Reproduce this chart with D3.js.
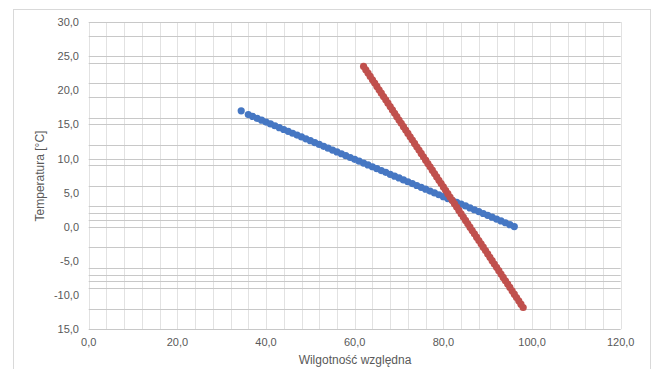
<!DOCTYPE html>
<html>
<head>
<meta charset="utf-8">
<script src="https://cdn.jsdelivr.net/npm/d3@7"></script>
<style>
  body { margin: 0; background: #fff; }
  text { font-family: "Liberation Sans", Arial, sans-serif; fill: #595959; }
</style>
</head>
<body>
<svg width="658" height="369"></svg>
<script>
// blue series (humidity %, temperature C)
let blueHum = [34.4, 36, 37, 38, 39, 40, 41, 42, 43, 44, 45, 46, 47, 48, 49, 50, 51, 52, 53, 54, 55,
  56, 57, 58, 59, 60, 61, 62, 63, 64, 65, 66, 67, 68, 69, 70, 71, 72, 73, 74, 75, 76, 77, 78, 79, 80,
  81, 82, 83, 84, 85, 86, 87, 88, 89, 90, 91, 92, 93, 94, 95, 96];
let blueTemp = [17.0, 16.45, 16.17, 15.9, 15.63, 15.35, 15.08, 14.81, 14.53, 14.26, 13.99, 13.71, 13.44,
  13.17, 12.89, 12.62, 12.35, 12.07, 11.8, 11.53, 11.25, 10.98, 10.71, 10.43, 10.16, 9.89, 9.62, 9.34,
  9.07, 8.8, 8.52, 8.25, 7.98, 7.7, 7.43, 7.16, 6.88, 6.61, 6.34, 6.06, 5.79, 5.52, 5.24, 4.97, 4.7,
  4.42, 4.15, 3.88, 3.6, 3.33, 3.06, 2.78, 2.51, 2.24, 1.96, 1.69, 1.42, 1.14, 0.87, 0.6, 0.32, 0.05];

// red series
let redHum = [62, 62.5, 63, 63.5, 64, 64.5, 65, 65.5, 66, 66.5, 67, 67.5, 68, 68.5, 69, 69.5, 70, 70.5,
  71, 71.5, 72, 72.5, 73, 73.5, 74, 74.5, 75, 75.5, 76, 76.5, 77, 77.5, 78, 78.5, 79, 79.5, 80, 80.5,
  81, 81.5, 82, 82.5, 83, 83.5, 84, 84.5, 85, 85.5, 86, 86.5, 87, 87.5, 88, 88.5, 89, 89.5, 90, 90.5,
  91, 91.5, 92, 92.5, 93, 93.5, 94, 94.5, 95, 95.5, 96, 96.5, 97, 97.5, 98];
let redTemp = [23.5, 23.01, 22.52, 22.03, 21.54, 21.05, 20.56, 20.07, 19.58, 19.09, 18.6, 18.11, 17.62,
  17.13, 16.63, 16.14, 15.65, 15.16, 14.67, 14.18, 13.69, 13.2, 12.71, 12.22, 11.73, 11.24, 10.75,
  10.26, 9.77, 9.28, 8.79, 8.3, 7.81, 7.32, 6.83, 6.34, 5.85, 5.35, 4.86, 4.37, 3.88, 3.39, 2.9, 2.41,
  1.92, 1.43, 0.94, 0.45, -0.04, -0.53, -1.02, -1.51, -2.0, -2.49, -2.98, -3.47, -3.96, -4.46, -4.95,
  -5.44, -5.93, -6.42, -6.91, -7.4, -7.89, -8.38, -8.87, -9.36, -9.85, -10.34, -10.83, -11.32, -11.81];

// ticks and labels
let xTicks = [0, 20, 40, 60, 80, 100, 120];
let xTickLabels = ["0,0", "20,0", "40,0", "60,0", "80,0", "100,0", "120,0"];
let yTicks = [30, 25, 20, 15, 10, 5, 0, -5, -10, -15];
let yTickLabels = ["30,0", "25,0", "20,0", "15,0", "10,0", "5,0", "0,0", "-5,0", "-10,0", "15,0"];
// gridlines as they appear in the picture
let xGrid = d3.range(0, 121, 4);
let yGrid = [30, 28, 25, 24, 21, 19, 16, 15, 12, 10, 9, 6, 3, 2, 1, 0, -3, -6, -7, -8, -9, -12, -15];

let svg = d3.select("svg");

// outer chart border
svg.append("rect")
  .attr("x", 13.5).attr("y", 9.5)
  .attr("width", 637).attr("height", 370)
  .attr("fill", "none").attr("stroke", "#d9d9d9");

let x = d3.scaleLinear().domain([0, 120]).range([88.7, 620.7]);
let y = d3.scaleLinear().domain([-15, 30]).range([329.3, 22]);

// vertical gridlines
svg.append("g").selectAll("line")
  .data(xGrid).enter().append("line")
  .attr("x1", d => Math.round(x(d)) + 0.5).attr("x2", d => Math.round(x(d)) + 0.5)
  .attr("y1", y(30)).attr("y2", y(-15))
  .attr("stroke", "#e2e2e2").attr("stroke-width", 1);

// horizontal gridlines
svg.append("g").selectAll("line")
  .data(yGrid).enter().append("line")
  .attr("x1", x(0)).attr("x2", x(120))
  .attr("y1", d => Math.round(y(d)) + 0.5).attr("y2", d => Math.round(y(d)) + 0.5)
  .attr("stroke", "#c8c8c8").attr("stroke-width", 1);

// tick labels
svg.append("g").selectAll("text")
  .data(xTicks).enter().append("text")
  .attr("x", d => x(d)).attr("y", 345.5)
  .attr("text-anchor", "middle").attr("font-size", "11px")
  .text((d, i) => xTickLabels[i]);

svg.append("g").selectAll("text")
  .data(yTicks).enter().append("text")
  .attr("x", 79).attr("y", d => y(d) + 4)
  .attr("text-anchor", "end").attr("font-size", "11px")
  .text((d, i) => yTickLabels[i]);

// axis titles
svg.append("text")
  .attr("x", 355).attr("y", 364)
  .attr("text-anchor", "middle").attr("font-size", "12px")
  .text("Wilgotność względna");

svg.append("text")
  .attr("transform", "translate(44," + 176 + ") rotate(-90)")
  .attr("text-anchor", "middle").attr("font-size", "12px")
  .text("Temperatura [°C]");

// points
let blue = blueHum.map((h, i) => ({h: h, t: blueTemp[i]}));
let red = redHum.map((h, i) => ({h: h, t: redTemp[i]}));

svg.append("g").selectAll("circle")
  .data(blue).enter().append("circle")
  .attr("cx", d => x(d.h)).attr("cy", d => y(d.t))
  .attr("r", 3.6).style("fill", "#4677c3");

svg.append("g").selectAll("circle")
  .data(red).enter().append("circle")
  .attr("cx", d => x(d.h)).attr("cy", d => y(d.t))
  .attr("r", 3.6).style("fill", "#c0504d");
</script>
</body>
</html>
